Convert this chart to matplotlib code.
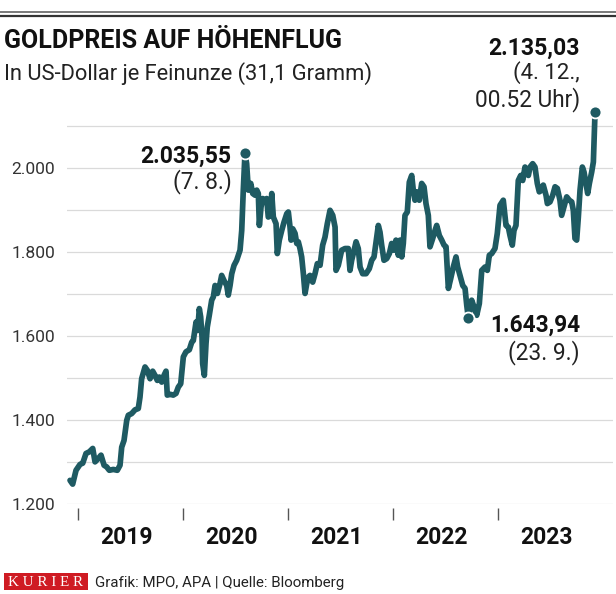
import matplotlib
matplotlib.use("Agg")
import matplotlib.pyplot as plt
from matplotlib.lines import Line2D
from matplotlib.patches import Rectangle

# ---------------- data ----------------
dates = [
    2018.924, 2018.949, 2018.981, 2019.019, 2019.045, 2019.076, 2019.108, 2019.140, 2019.162, 2019.193,
    2019.219, 2019.248, 2019.273, 2019.298, 2019.336, 2019.374, 2019.400, 2019.416, 2019.438, 2019.464,
    2019.479, 2019.511, 2019.543, 2019.574, 2019.590, 2019.606, 2019.638, 2019.660, 2019.686, 2019.711,
    2019.733, 2019.755, 2019.774, 2019.797, 2019.819, 2019.838, 2019.850, 2019.876, 2019.907, 2019.933,
    2019.955, 2019.978, 2020.003, 2020.028, 2020.060, 2020.083, 2020.098, 2020.124, 2020.140, 2020.155,
    2020.168, 2020.181, 2020.187, 2020.203, 2020.219, 2020.231, 2020.250, 2020.273, 2020.289, 2020.305,
    2020.327, 2020.352, 2020.368, 2020.390, 2020.416, 2020.431, 2020.448, 2020.464, 2020.486, 2020.511,
    2020.543, 2020.559, 2020.574, 2020.590,
    2020.606, 2020.622, 2020.645, 2020.664, 2020.686, 2020.702, 2020.717, 2020.727, 2020.743, 2020.759,
    2020.781, 2020.797, 2020.812, 2020.835, 2020.845, 2020.860, 2020.886, 2020.898, 2020.917, 2020.940,
    2020.962, 2020.988, 2021.003, 2021.019, 2021.029, 2021.045, 2021.067, 2021.083, 2021.098, 2021.114,
    2021.130, 2021.146, 2021.162, 2021.178, 2021.193, 2021.209, 2021.235, 2021.257, 2021.279, 2021.305,
    2021.330, 2021.352, 2021.374, 2021.400, 2021.426, 2021.448, 2021.457, 2021.479, 2021.511, 2021.543,
    2021.574, 2021.590, 2021.606, 2021.622, 2021.648, 2021.669, 2021.686, 2021.711, 2021.743, 2021.774,
    2021.797, 2021.819, 2021.845, 2021.860, 2021.876, 2021.892, 2021.914, 2021.940, 2021.965, 2021.987,
    2022.009, 2022.028, 2022.050, 2022.067, 2022.083, 2022.098, 2022.114, 2022.136, 2022.155, 2022.178,
    2022.193, 2022.209, 2022.225, 2022.250, 2022.273, 2022.295, 2022.314, 2022.336, 2022.352, 2022.378,
    2022.400, 2022.416, 2022.441, 2022.464, 2022.486, 2022.505, 2022.527, 2022.549, 2022.574, 2022.600,
    2022.616, 2022.638, 2022.664, 2022.686, 2022.702, 2022.717,
    2022.749, 2022.771, 2022.797, 2022.822, 2022.845, 2022.876, 2022.898, 2022.917, 2022.940, 2022.971,
    2022.993, 2023.019, 2023.050, 2023.076, 2023.098, 2023.114, 2023.136, 2023.152, 2023.171, 2023.193,
    2023.216, 2023.235, 2023.257, 2023.273, 2023.289, 2023.305, 2023.330, 2023.352, 2023.374, 2023.393,
    2023.416, 2023.431, 2023.457, 2023.470, 2023.495, 2023.521, 2023.543, 2023.565, 2023.590, 2023.606,
    2023.628, 2023.654, 2023.679, 2023.702, 2023.717, 2023.733, 2023.749, 2023.765, 2023.781, 2023.803,
    2023.819, 2023.838, 2023.854, 2023.870, 2023.892, 2023.908, 2023.924,
]
prices = [
    1257, 1248, 1281, 1295, 1298, 1321, 1325, 1333, 1301, 1309,
    1317, 1293, 1289, 1281, 1283, 1281, 1293, 1336, 1352, 1400,
    1412, 1416, 1425, 1428, 1455, 1499, 1527, 1519, 1499, 1517,
    1507, 1495, 1503, 1491, 1507, 1517, 1460, 1462, 1460, 1464,
    1479, 1487, 1551, 1563, 1568, 1586, 1590, 1634, 1614, 1666,
    1646, 1598, 1535, 1507, 1583, 1622, 1650, 1686, 1694, 1721,
    1702, 1725, 1745, 1733, 1721, 1698, 1721, 1749, 1769, 1781,
    1805, 1852, 1948, 2035.55,
    2011, 1948, 1964, 1940, 1936, 1948, 1940, 1864, 1908, 1928,
    1920, 1928, 1884, 1888, 1940, 1884, 1868, 1797, 1829, 1852,
    1872, 1892, 1896, 1860, 1829, 1856, 1845, 1821, 1825, 1809,
    1789, 1749, 1702, 1725, 1741, 1745, 1729, 1749, 1773, 1769,
    1817, 1836, 1868, 1900, 1888, 1860, 1757, 1769, 1805, 1809,
    1809, 1757, 1781, 1797, 1825, 1809, 1765, 1749, 1749, 1761,
    1781, 1789, 1836, 1864, 1848, 1817, 1781, 1785, 1797, 1821,
    1805, 1829, 1793, 1829, 1789, 1821, 1888, 1896, 1967, 1983,
    1948, 1924, 1944, 1924, 1964, 1956, 1916, 1888, 1813, 1833,
    1852, 1864, 1840, 1829, 1817, 1813, 1714, 1737, 1765, 1789,
    1765, 1745, 1721, 1714, 1674, 1643.94,
    1686, 1670, 1650, 1678, 1757, 1765, 1757, 1793, 1797, 1809,
    1845, 1912, 1924, 1864, 1860, 1840, 1817, 1852, 1864, 1971,
    1983, 1971, 2003, 1991, 1983, 2003, 2011, 2003, 1964, 1944,
    1948, 1960, 1936, 1916, 1920, 1936, 1956, 1952, 1924, 1888,
    1908, 1932, 1924, 1920, 1900, 1833, 1829, 1884, 1948, 2003,
    1991, 1964, 1940, 1964, 1991, 2015, 2135.03,
]

ann_dates = [2020.590, 2022.717, 2023.924]
ann_values = [2035.55, 1643.94, 2135.03]
ann_labels = ["2.035,55", "1.643,94", "2.135,03"]
ann_sublabels = ["(7. 8.)", "(23. 9.)", "(4. 12.,", "00.52 Uhr)"]

years = [2019, 2020, 2021, 2022, 2023]
year_labels = ["2019", "2020", "2021", "2022", "2023"]
y_ticks = [1200, 1400, 1600, 1800, 2000]
y_tick_labels = ["1.200", "1.400", "1.600", "1.800", "2.000"]
y_grid = [1200, 1300, 1400, 1500, 1600, 1700, 1800, 1900, 2000, 2100]

title = "GOLDPREIS AUF HÖHENFLUG"
subtitle = "In US-Dollar je Feinunze (31,1 Gramm)"
footer = "Grafik: MPO, APA | Quelle: Bloomberg"
brand = "K U R I E R"

# ---------------- styling ----------------
TEAL = "#1e5a62"
GRID = "#dadada"
FONT = ["Roboto", "DejaVu Sans"]
NARROW = ["Liberation Sans Narrow", "Roboto", "DejaVu Sans"]

W, H = 616, 594
fig = plt.figure(figsize=(W / 100, H / 100), dpi=100)
fig.patch.set_facecolor("white")
renderer = fig.canvas.get_renderer()


def fx(px):
    return px / W


def fy(py):
    return 1 - py / H


def fit_text(x, y, s, width, **kw):
    t = fig.text(fx(x), fy(y), s, **kw)
    fs = t.get_fontsize()
    bb = t.get_window_extent(renderer=renderer)
    if bb.width > 0:
        t.set_fontsize(fs * width / bb.width)
    return t


# axes
AX_L, AX_R, AX_B, AX_T = 67, 613, 504.3, 105.3
ax = fig.add_axes([fx(AX_L), fy(AX_B), (AX_R - AX_L) / W, (AX_B - AX_T) / H])
ax.set_xlim(2018.895, 2024.095)
ax.set_ylim(1200, 2150)
for sp in ax.spines.values():
    sp.set_visible(False)
ax.set_facecolor("none")
ax.set_xticks([])
ax.set_yticks(y_ticks)
ax.set_yticklabels(y_tick_labels, family=FONT, fontsize=12.5, color="#333333")
ax.set_yticks(y_grid, minor=True)
ax.tick_params(axis="y", which="both", length=0, pad=8.6)
ax.grid(axis="y", which="both", color=GRID, lw=0.9, zorder=0)
ax.set_axisbelow(True)

ax_h = AX_B - AX_T
xt = ax.get_xaxis_transform()
ax.vlines(years, -(520 - AX_B) / ax_h, -(508 - AX_B) / ax_h, transform=xt,
          color="#555555", lw=1.0, clip_on=False)
for yv, lab in zip(years, year_labels):
    ax.text(yv + 0.46, -(537 - AX_B) / ax_h, lab, transform=xt, ha="center", va="center",
            family=NARROW, fontweight="bold", fontsize=16.5, color="#111111")

ax.plot(dates, prices, color=TEAL, lw=4.1, solid_joinstyle="round", solid_capstyle="round",
        zorder=3, clip_on=False)
ax.plot(ann_dates, ann_values, "o", ms=8.6, mfc=TEAL, mec="white", mew=1.3, zorder=4, clip_on=False)

# annotations
fit_text(231, 156, ann_labels[0], 91, ha="right", va="center", family=FONT, fontweight="bold",
         fontsize=15, color="#111111")
fit_text(232, 182, ann_sublabels[0], 59, ha="right", va="center", family=FONT,
         fontsize=15, color="#222222")
fit_text(490, 325, ann_labels[1], 90, ha="left", va="center", family=FONT, fontweight="bold",
         fontsize=15, color="#111111")
fit_text(580, 353, ann_sublabels[1], 72, ha="right", va="center", family=FONT,
         fontsize=15, color="#222222")
fit_text(580, 48, ann_labels[2], 92, ha="right", va="center", family=FONT, fontweight="bold",
         fontsize=15, color="#111111")
fit_text(580, 73, ann_sublabels[2], 67, ha="right", va="center", family=FONT,
         fontsize=15, color="#222222")
fit_text(580, 100, ann_sublabels[3], 105, ha="right", va="center", family=FONT,
         fontsize=15, color="#222222")

# header
fig.add_artist(Line2D([0, 1], [fy(11.8), fy(11.8)], color="#555555", lw=1.1))
fig.add_artist(Line2D([0, 1], [fy(16.3), fy(16.3)], color="#333333", lw=1.6))
fit_text(4, 48.3, title, 338, ha="left", va="baseline", family=FONT, fontweight="bold",
         fontsize=17, color="#111111")
fit_text(4, 80, subtitle, 369, ha="left", va="baseline", family=FONT, fontsize=15,
         color="#222222")

# footer
fig.add_artist(Rectangle((fx(4), fy(590)), (88 - 4) / W, (590 - 573) / H,
                         transform=fig.transFigure, facecolor="#cf1b23", edgecolor="none"))
fit_text(46, 582, brand, 76, ha="center", va="center",
         family=["Liberation Serif", "DejaVu Serif"], fontsize=11, color="white")
fit_text(95, 587.3, footer, 250, ha="left", va="baseline", family=FONT, fontsize=12,
         color="#222222")

fig.savefig("out.png", dpi=100, facecolor="white")
